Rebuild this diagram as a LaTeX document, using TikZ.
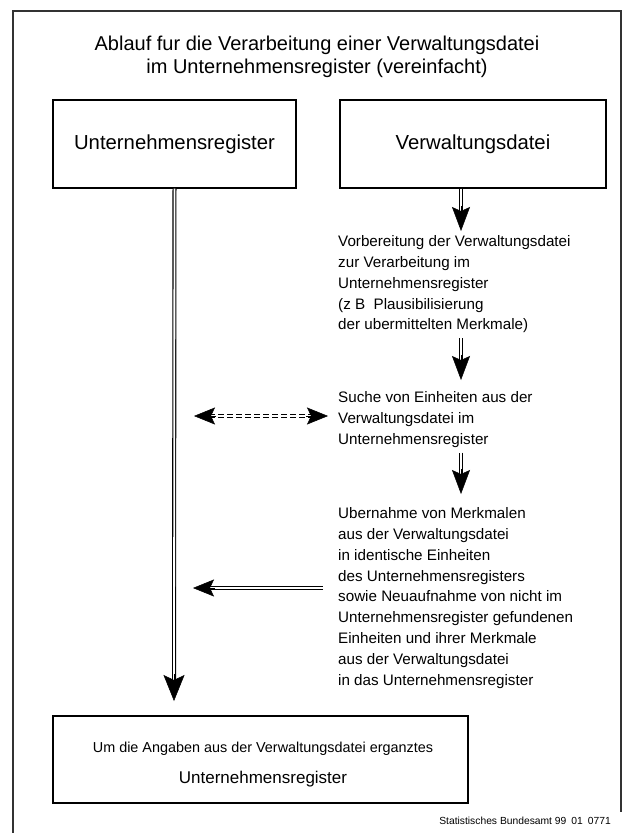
\documentclass[tikz,border=0pt]{standalone}
\usepackage{fontspec}
\setmainfont{Liberation Sans}
\usetikzlibrary{arrows.meta,calc}
\begin{document}
\begin{tikzpicture}[x=1pt,y=-1pt,
  frame/.style={draw=black!80, line width=1.1pt},
  box/.style={draw=black, line width=1.2pt, inner sep=0pt, align=center},
  boxtext/.style={font=\fontsize{20.3}{23}\selectfont},
  txt/.style={inner sep=0pt, align=left, anchor=north west,
    font=\fontsize{15.2}{20.8}\selectfont},
  shaft/.style={draw=black, line width=1.1pt, double=white, double distance=1.8pt},
  dshaft/.style={shaft, dash pattern=on 6pt off 3pt},
  headv/.style={-{Stealth[length=24pt,width=18pt,inset=4pt]}, line width=0.5pt},
  headm/.style={-{Stealth[length=26pt,width=21pt,inset=5pt]}, line width=0.5pt},
  headh/.style={-{Stealth[length=21pt,width=17pt,inset=4pt]}, line width=0.5pt}
]
\useasboundingbox (0,0) rectangle (623,833);

% outer frame, open at the bottom
\draw[frame] (13,833) -- (13,11) -- (621,11) -- (621,812);

% heading (base anchor sits on the last line)
\node[align=center, inner sep=0pt, font=\fontsize{20}{23}\selectfont, anchor=base]
  (title) at (317,73) {Ablauf fur die Verarbeitung einer Verwaltungsdatei\\
  im Unternehmensregister (vereinfacht)};

% the two sources
\node[box, boxtext, minimum width=243pt, minimum height=88pt] (ur) at (174.5,144)
  {Unternehmensregister};
\node[box, boxtext, minimum width=266pt, minimum height=88pt] (vd) at (473,144)
  {Verwaltungsdatei};

% processing steps
\node[txt] (s1) at (338,235.5) {Vorbereitung der Verwaltungsdatei\\
  zur Verarbeitung im\\
  Unternehmensregister\\
  (z B\ \ Plausibilisierung\\
  der ubermittelten Merkmale)};
\node[txt] (s2) at (338,391.5) {Suche von Einheiten aus der\\
  Verwaltungsdatei im\\
  Unternehmensregister};
\node[txt] (s3) at (338,507.5) {Ubernahme von Merkmalen\\
  aus der Verwaltungsdatei\\
  in identische Einheiten\\
  des Unternehmensregisters\\
  sowie Neuaufnahme von nicht im\\
  Unternehmensregister gefundenen\\
  Einheiten und ihrer Merkmale\\
  aus der Verwaltungsdatei\\
  in das Unternehmensregister};

% result
\node[box, minimum width=415pt, minimum height=87pt] (res) at (260.5,759.5) {};
\node[inner sep=0pt, align=center, anchor=base] (restext) at (263,783)
  {\fontsize{14.4}{17}\selectfont Um die Angaben aus der Verwaltungsdatei erganztes\\[14pt]
   \fontsize{17}{19}\selectfont Unternehmensregister};

% source line
\node[anchor=base east, inner sep=0pt, font=\fontsize{10.3}{12}\selectfont]
  (src) at (611,824) {Statistisches Bundesamt 99\hspace{5pt}01\hspace{5pt}0771};

% arrow tips
\coordinate (h1) at (461,231);
\coordinate (h2) at (461,380);
\coordinate (h3) at (461,494);
\coordinate (hm) at (174,701);
\coordinate (dl) at (194,416);
\coordinate (dr) at (328,416);
\coordinate (ll) at (193,588);
\coordinate (le) at (323,588);

% downward flow on the right
\draw[shaft] (h1 |- vd.south) -- ($(h1)+(0,-16)$);
\draw[headv] ($(h1)+(0,-25)$) -- (h1);
\draw[shaft] ([yshift=-5pt]h2 |- s1.south) -- ($(h2)+(0,-16)$);
\draw[headv] ($(h2)+(0,-25)$) -- (h2);
\draw[shaft] ([yshift=-5pt]h3 |- s2.south) -- ($(h3)+(0,-16)$);
\draw[headv] ($(h3)+(0,-25)$) -- (h3);

% main line from the register to the result
\draw[shaft] (ur.south) -- ($(hm)+(0,-17)$);
\draw[headm] ($(hm)+(0,-27)$) -- (hm);

% search link (both ways)
\draw[dshaft] ($(dl)+(15,0)$) -- ($(dr)+(-15,0)$);
\draw[headh] ($(dl)+(22,0)$) -- (dl);
\draw[headh] ($(dr)+(-22,0)$) -- (dr);

% transfer back into the register
\draw[shaft] (le) -- ($(ll)+(15,0)$);
\draw[headh] ($(ll)+(22,0)$) -- (ll);
\end{tikzpicture}
\end{document}
